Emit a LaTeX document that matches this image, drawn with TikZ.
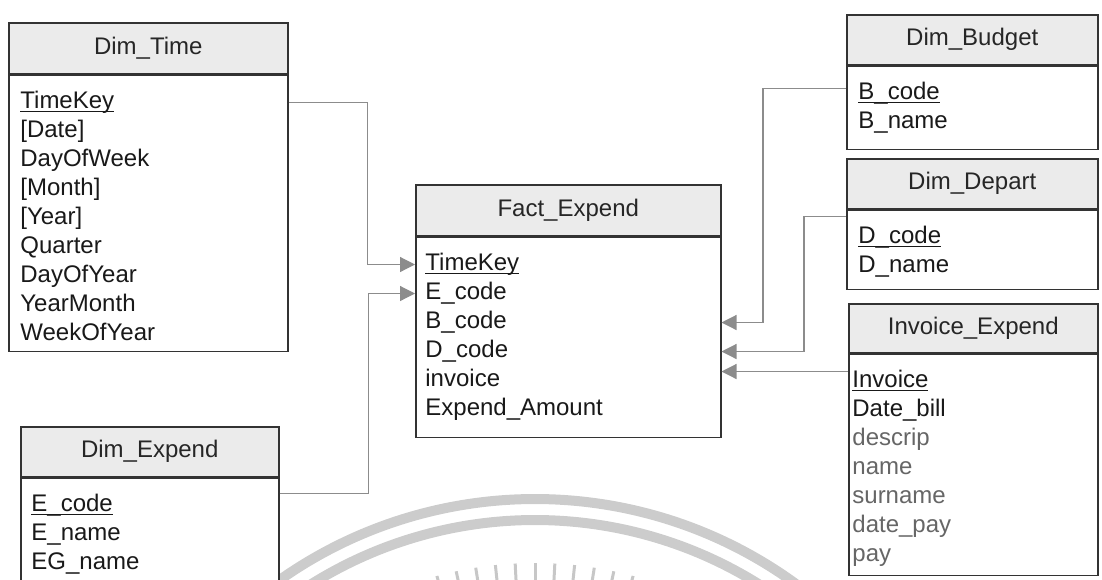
\documentclass[tikz,border=0pt]{standalone}
\usepackage{fontspec}
\setmainfont{Liberation Sans}
\usetikzlibrary{positioning, arrows.meta}
\newcommand\keyfield[1]{\underline{\smash{#1}}}

\begin{document}
\begin{tikzpicture}[
        x=0.5pt, y=-0.5pt,
        font=\fontsize{12}{14.5}\selectfont,
        tbl/.style={draw=black!80, line width=0.75pt, inner sep=0pt},
        hdr/.style={tbl, fill=black!8, anchor=north west, text=black!85},
        body/.style={tbl, fill=white, below=0pt of #1},
        row/.style={anchor=west, inner sep=0pt, text height=9pt, text depth=3pt, text=black!90},
        fk/.style={draw=black!45, line width=0.6pt, -{Triangle[length=7.5pt, width=7.5pt, fill=black!45]}},
        seal/.style={draw=black!20, line width=5pt},
        ray/.style={draw=black!22, line width=1.5pt}
    ]
        \useasboundingbox (0,0) rectangle (1102,579);
        \clip (0,0) rectangle (1102,579);

        % watermark seal
        \draw[seal] (535,942) ++(-130:443) arc[start angle=-130, end angle=-50, radius=443];
        \draw[seal] (535,942) ++(-130:422) arc[start angle=-130, end angle=-50, radius=422];
        \foreach \a in {-105,-102,...,-75}
            \draw[ray] (535,942) ++(\a:345) -- ++(\a:34);

        % Dim_Time
        \node[hdr, minimum width=139.5pt, minimum height=25.5pt] (time) at (8,22) {Dim\_Time};
        \node[body=time, minimum width=139.5pt, minimum height=138pt] (timebody) {};
        \foreach \f [count=\i] in {\keyfield{TimeKey}, [Date], DayOfWeek, [Month], [Year], Quarter, DayOfYear, YearMonth, WeekOfYear}
            \node[row] (time-\i) at ([xshift=6pt, yshift={-14pt-(\i-1)*14.5pt}]timebody.north west) {\f};

        % Fact_Expend
        \node[hdr, minimum width=152.5pt, minimum height=25.5pt] (fact) at (415,184) {Fact\_Expend};
        \node[body=fact, minimum width=152.5pt, minimum height=100pt] (factbody) {};
        \foreach \f [count=\i] in {\keyfield{TimeKey}, E\_code, B\_code, D\_code, invoice, Expend\_Amount}
            \node[row] (fact-\i) at ([xshift=5pt, yshift={-14pt-(\i-1)*14.5pt}]factbody.north west) {\f};

        % Dim_Budget
        \node[hdr, minimum width=125.5pt, minimum height=25pt] (budget) at (846,14) {Dim\_Budget};
        \node[body=budget, minimum width=125.5pt, minimum height=41.5pt] (budgetbody) {};
        \foreach \f [count=\i] in {\keyfield{B\_code}, B\_name}
            \node[row] (budget-\i) at ([xshift=6pt, yshift={-14pt-(\i-1)*14.5pt}]budgetbody.north west) {\f};

        % Dim_Depart
        \node[hdr, minimum width=125.5pt, minimum height=25pt] (depart) at (846,158) {Dim\_Depart};
        \node[body=depart, minimum width=125.5pt, minimum height=39.5pt] (departbody) {};
        \foreach \f [count=\i] in {\keyfield{D\_code}, D\_name}
            \node[row] (depart-\i) at ([xshift=6pt, yshift={-14pt-(\i-1)*14.5pt}]departbody.north west) {\f};

        % Invoice_Expend
        \node[hdr, minimum width=124.5pt, minimum height=24.5pt] (invoice) at (848,303) {Invoice\_Expend};
        \node[body=invoice, minimum width=124.5pt, minimum height=110.5pt] (invoicebody) {};
        \foreach \f [count=\i] in {\keyfield{Invoice}, Date\_bill, \textcolor{black!60}{descrip}, \textcolor{black!60}{name},
                \textcolor{black!60}{surname}, \textcolor{black!60}{date\_pay}, \textcolor{black!60}{pay}}
            \node[row] (invoice-\i) at ([xshift=2pt, yshift={-14pt-(\i-1)*14.5pt}]invoicebody.north west) {\f};

        % Dim_Expend
        \node[hdr, minimum width=129pt, minimum height=25pt] (expend) at (20,426) {Dim\_Expend};
        \node[body=expend, minimum width=129pt, minimum height=60pt] (expendbody) {};
        \foreach \f [count=\i] in {\keyfield{E\_code}, E\_name, EG\_name}
            \node[row] (expend-\i) at ([xshift=5.5pt, yshift={-14pt-(\i-1)*14.5pt}]expendbody.north west) {\f};

        % links to the fact table
        \coordinate (invlink) at ([yshift=-9pt]invoicebody.north west);
        \draw[fk] (timebody.east |- time-1) -- ++(79,0) |- (factbody.west |- fact-1);
        \draw[fk] (expendbody.north east) ++(0,16) -- ++(89,0) |- (factbody.west |- fact-2);
        \draw[fk] (budgetbody.north west) ++(0,23) -- ++(-83,0) |- (factbody.east |- fact-3);
        \draw[fk] (departbody.north west) ++(0,7) -- ++(-42,0) |- (factbody.east |- fact-4);
        \draw[fk] (invlink) -- (factbody.east |- invlink);
    \end{tikzpicture}
\end{document}
